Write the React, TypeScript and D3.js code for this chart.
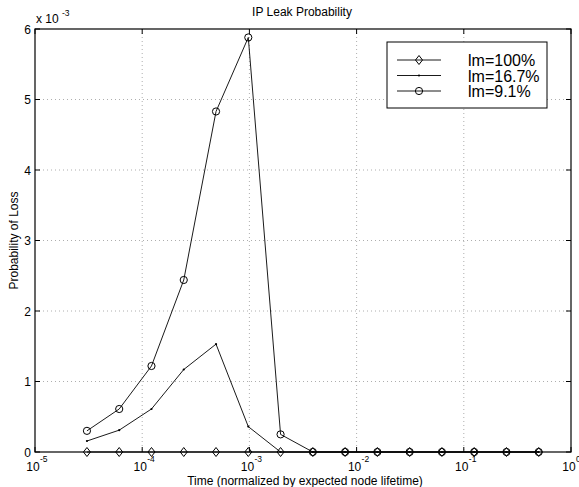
import React from "react";
import * as d3 from "d3";

const times = [3.0518e-5, 6.1035e-5, 1.2207e-4, 2.4414e-4, 4.8828e-4, 9.7656e-4, 1.9531e-3, 3.9063e-3, 7.8125e-3, 1.5625e-2, 3.125e-2, 6.25e-2, 0.125, 0.25, 0.5];
const lm100 = [0, 0, 0, 0, 0, 0, 0, 0, 0, 0, 0, 0, 0, 0, 0];
const lm167 = [0.156e-3, 0.31e-3, 0.61e-3, 1.17e-3, 1.53e-3, 0.36e-3, 0, 0, 0, 0, 0, 0, 0, 0, 0];
const lm91 = [0.30e-3, 0.61e-3, 1.22e-3, 2.44e-3, 4.83e-3, 5.88e-3, 0.25e-3, 0, 0, 0, 0, 0, 0, 0, 0];
const xTickExps = [-5, -4, -3, -2, -1, 0];
const yTicks = [0, 1, 2, 3, 4, 5, 6];
const legendLabels = ["lm=100%", "lm=16.7%", "lm=9.1%"];
const markers = ["diamond", "dot", "circle"];

const W = 579, H = 487;
const L = 35, R = 571, T = 29, B = 452;
const FONT = "'Liberation Sans', Arial, Helvetica, sans-serif";

function Marker({ type, x, y }: { type: string; x: number; y: number }) {
  if (type === "diamond") {
    return <path d={`M${x},${y - 4.5}L${x + 3.5},${y}L${x},${y + 4.5}L${x - 3.5},${y}Z`} fill="none" stroke="#000" strokeWidth={1} />;
  }
  if (type === "circle") {
    return <circle cx={x} cy={y} r={3.6} fill="none" stroke="#000" strokeWidth={1} />;
  }
  return <circle cx={x} cy={y} r={1.1} fill="#000" />;
}

export default function App() {
  const x = d3.scaleLog().domain([1e-5, 1]).range([L, R]);
  const y = d3.scaleLinear().domain([0, 6e-3]).range([B, T]);
  const series = [lm100, lm167, lm91];
  const line = d3.line<number>().x((_, i) => x(times[i])).y((d) => y(d));

  return (
    <svg width={W} height={H} style={{ position: "absolute", left: 0, top: 0, background: "#fff" }} fontFamily={FONT}>
      <rect x={0} y={0} width={W} height={H} fill="#fff" />
      {/* grid */}
      {xTickExps.slice(1, -1).map((e) => (
        <line key={"gx" + e} x1={x(Math.pow(10, e))} x2={x(Math.pow(10, e))} y1={T} y2={B} stroke="#999" strokeWidth={0.8} strokeDasharray="1,3" />
      ))}
      {yTicks.slice(1, -1).map((t) => (
        <line key={"gy" + t} x1={L} x2={R} y1={y(t * 1e-3)} y2={y(t * 1e-3)} stroke="#999" strokeWidth={0.8} strokeDasharray="1,3" />
      ))}
      {/* ticks */}
      {xTickExps.map((e) => {
        const px = x(Math.pow(10, e));
        return (
          <g key={"tx" + e}>
            <line x1={px} x2={px} y1={B} y2={B - 5} stroke="#000" />
            <line x1={px} x2={px} y1={T} y2={T + 5} stroke="#000" />
            <text x={px - 2} y={471} fontSize={12} textAnchor="middle">10</text>
            <text x={px + 5} y={462} fontSize={8.5}>{e === 0 ? "0" : "-" + Math.abs(e)}</text>
          </g>
        );
      })}
      {yTicks.map((t) => {
        const py = y(t * 1e-3);
        return (
          <g key={"ty" + t}>
            <line x1={L} x2={L + 5} y1={py} y2={py} stroke="#000" />
            <line x1={R} x2={R - 5} y1={py} y2={py} stroke="#000" />
            <text x={31} y={py + 4.5} fontSize={12} textAnchor="end">{t}</text>
          </g>
        );
      })}
      <text x={36} y={23} fontSize={12}>x 10</text>
      <text x={62} y={16} fontSize={8.5}>-3</text>
      {/* series */}
      {series.map((s, si) => (
        <g key={"s" + si}>
          <path d={line(s) || ""} fill="none" stroke="#000" strokeWidth={0.9} />
          {s.map((v, i) => (
            <Marker key={i} type={markers[si]} x={x(times[i])} y={y(v)} />
          ))}
        </g>
      ))}
      {/* box */}
      <rect x={L} y={T} width={R - L} height={B - T} fill="none" stroke="#000" strokeWidth={1.2} />
      {/* title & labels */}
      <text x={302} y={16} fontSize={12} textAnchor="middle">IP Leak Probability</text>
      <text x={305} y={485} fontSize={12} textAnchor="middle">Time (normalized by expected node lifetime)</text>
      <text transform={`translate(18,${(T + B) / 2}) rotate(-90)`} fontSize={12} textAnchor="middle">Probability of Loss</text>
      {/* legend */}
      <rect x={387} y={42} width={160} height={66} fill="#fff" stroke="#000" strokeWidth={1} />
      {legendLabels.map((lab, i) => {
        const ly = 60 + i * 15.5;
        return (
          <g key={"lg" + i}>
            <line x1={397} x2={441} y1={ly} y2={ly} stroke="#000" strokeWidth={0.9} />
            <Marker type={markers[i]} x={419} y={ly} />
            <text x={468} y={ly + 6} fontSize={16}>{lab}</text>
          </g>
        );
      })}
    </svg>
  );
}
